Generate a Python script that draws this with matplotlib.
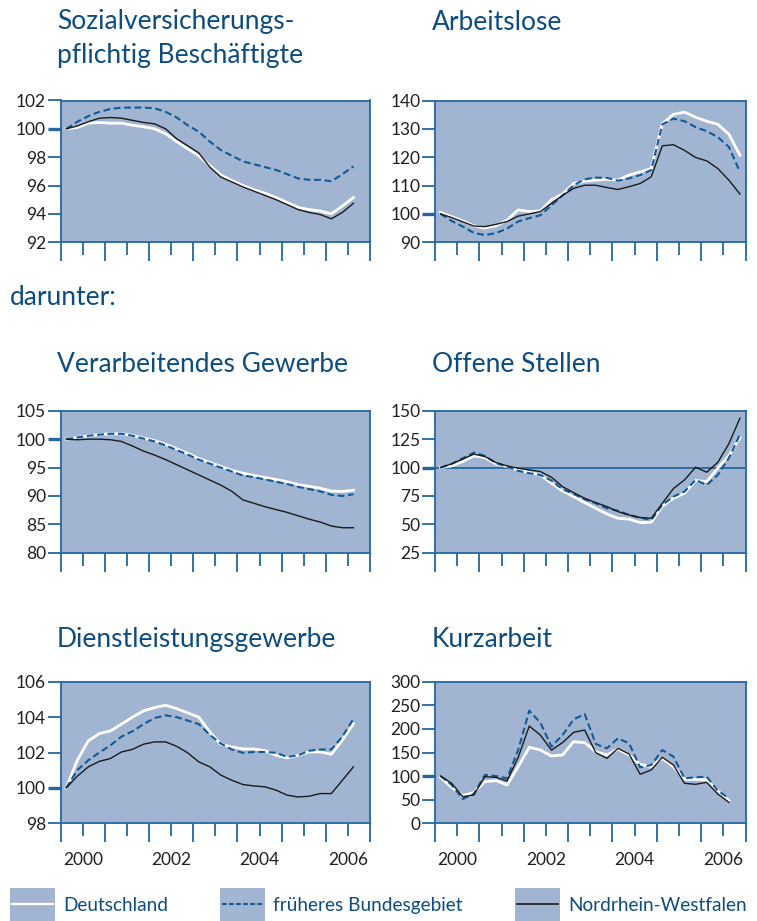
import numpy as np
import matplotlib
matplotlib.use("Agg")
import matplotlib.pyplot as plt
from matplotlib.patches import Rectangle
from matplotlib.lines import Line2D

plt.rcParams['font.family'] = ['Lato', 'DejaVu Sans']

# ---------------- data (quarterly, Q1 2000 ...) ----------------
years = [2000, 2001, 2002, 2003, 2004, 2005, 2006]
year_labels = ["2000", "", "2002", "", "2004", "", "2006"]

# Sozialversicherungspflichtig Beschäftigte
svb_de  = [100.0, 100.1, 100.4, 100.45, 100.4, 100.4, 100.25, 100.15, 100.0, 99.65, 99.1, 98.6, 98.1, 97.4,
           96.75, 96.35, 96.0, 95.7, 95.45, 95.15, 94.8, 94.45, 94.3, 94.2, 94.0, 94.55, 95.15]
svb_w   = [100.0, 100.5, 100.9, 101.2, 101.4, 101.5, 101.5, 101.5, 101.45, 101.2, 100.8, 100.25, 99.8, 99.1,
           98.5, 98.1, 97.7, 97.5, 97.3, 97.1, 96.8, 96.5, 96.4, 96.4, 96.3, 96.8, 97.35]
svb_nrw = [100.0, 100.2, 100.5, 100.75, 100.8, 100.75, 100.6, 100.45, 100.35, 100.0, 99.3, 98.8, 98.3, 97.3,
           96.6, 96.25, 95.9, 95.6, 95.3, 95.0, 94.65, 94.3, 94.1, 93.95, 93.65, 94.1, 94.75]

# Arbeitslose (to Q4 2006)
al_de  = [100.5, 99.0, 97.5, 95.8, 95.0, 95.8, 97.8, 101.4, 100.8, 101.0, 105.0, 107.0, 110.7, 111.5,
          111.9, 112.2, 111.9, 113.7, 114.8, 116.0, 131.8, 135.1, 135.9, 134.1, 132.7, 131.6, 128.1, 120.7]
al_w   = [100.0, 97.5, 95.5, 93.3, 92.5, 93.2, 94.8, 97.3, 98.5, 99.5, 103.0, 106.5, 110.1, 112.2,
          112.8, 112.7, 111.7, 112.5, 113.7, 115.5, 131.6, 133.6, 132.7, 130.6, 129.2, 127.1, 123.6, 114.8]
al_nrw = [100.0, 98.7, 97.2, 95.7, 95.5, 96.3, 97.3, 99.2, 100.0, 100.8, 103.7, 106.5, 109.0, 110.1,
          110.1, 109.3, 108.6, 109.6, 110.7, 113.1, 124.0, 124.4, 122.4, 119.9, 118.7, 116.0, 111.9, 107.0]

# Verarbeitendes Gewerbe
vg_de  = [100.0, 100.3, 100.6, 100.8, 100.95, 100.95, 100.65, 100.2, 99.75, 99.1, 98.3, 97.5, 96.6, 95.9,
          95.2, 94.5, 94.0, 93.6, 93.25, 92.9, 92.5, 92.0, 91.7, 91.35, 90.85, 90.8, 91.0]
vg_w   = [100.0, 100.3, 100.6, 100.8, 100.95, 100.95, 100.6, 100.1, 99.6, 98.9, 98.1, 97.3, 96.4, 95.7,
          95.0, 94.3, 93.6, 93.3, 92.9, 92.5, 92.1, 91.6, 91.2, 90.8, 90.2, 90.0, 90.3]
vg_nrw = [100.0, 99.9, 100.0, 100.0, 99.9, 99.6, 98.8, 97.9, 97.2, 96.4, 95.5, 94.6, 93.7, 92.8,
          91.9, 90.8, 89.3, 88.7, 88.1, 87.6, 87.1, 86.5, 85.9, 85.4, 84.7, 84.4, 84.4]

# Offene Stellen (to Q4 2006)
os_de  = [100.0, 101.5, 105.3, 110.3, 108.8, 103.2, 100.9, 97.9, 95.6, 93.5, 86.2, 79.4, 74.4, 69.1,
          64.1, 59.1, 55.3, 54.6, 51.5, 51.8, 66.0, 72.9, 77.4, 88.5, 87.6, 99.4, 110.5, 126.5]
os_w   = [100.0, 103.2, 108.2, 113.2, 110.3, 103.8, 100.9, 97.1, 95.0, 93.5, 88.5, 80.9, 76.8, 72.1,
          68.5, 64.1, 62.0, 58.2, 55.9, 53.8, 67.1, 74.4, 78.8, 89.1, 84.7, 93.5, 108.5, 129.0]
os_nrw = [100.0, 103.2, 107.4, 111.8, 109.7, 104.4, 101.5, 99.4, 97.9, 96.5, 91.5, 83.2, 77.9, 72.9,
          69.1, 65.6, 61.2, 58.2, 56.0, 55.3, 68.5, 81.5, 89.1, 100.3, 95.9, 104.6, 121.0, 143.5]

# Dienstleistungsgewerbe
dl_de  = [100.0, 101.56, 102.66, 103.07, 103.22, 103.6, 104.0, 104.35, 104.54, 104.67, 104.48, 104.24, 104.0,
          103.15, 102.46, 102.31, 102.2, 102.2, 102.1, 101.84, 101.7, 101.84, 102.03, 102.03, 101.9, 102.7, 103.63]
dl_w   = [100.0, 101.0, 101.56, 102.0, 102.4, 102.9, 103.2, 103.6, 103.95, 104.1, 104.0, 103.8, 103.6,
          103.0, 102.5, 102.17, 101.98, 102.03, 102.03, 101.98, 101.75, 101.84, 102.1, 102.17, 102.17, 102.9, 103.9]
dl_nrw = [100.0, 100.66, 101.19, 101.5, 101.66, 102.03, 102.18, 102.47, 102.6, 102.6, 102.35, 101.98, 101.47,
          101.19, 100.72, 100.43, 100.19, 100.11, 100.06, 99.87, 99.59, 99.49, 99.53, 99.68, 99.68, 100.43, 101.19]

# Kurzarbeit
ka_de  = [97.4, 76.2, 58.6, 65.0, 88.2, 90.4, 81.2, 120.0, 161.0, 155.3, 142.6, 144.7, 173.0, 170.8,
          151.8, 144.7, 157.4, 144.7, 125.0, 120.0, 137.6, 120.0, 93.2, 93.2, 91.8, 69.2, 48.0]
ka_w   = [100.2, 81.2, 51.5, 62.1, 102.4, 100.2, 95.3, 155.3, 238.6, 213.2, 162.4, 187.0, 220.2, 231.5,
          168.0, 158.8, 180.0, 169.4, 118.6, 123.5, 155.3, 141.2, 95.3, 97.4, 98.8, 69.2, 53.0]
ka_nrw = [100.2, 84.7, 56.5, 60.0, 98.8, 97.4, 89.6, 139.8, 206.0, 187.0, 155.0, 171.0, 192.7, 197.6,
          149.6, 137.6, 158.8, 146.8, 103.8, 113.0, 139.8, 123.5, 84.7, 82.6, 86.8, 62.1, 44.5]

title_lines = ["Sozialversicherungs-", "pflichtig Beschäftigte"]
titles = ["Arbeitslose", "Verarbeitendes Gewerbe", "Offene Stellen",
          "Dienstleistungsgewerbe", "Kurzarbeit"]
legend_labels = ["Deutschland", "früheres Bundesgebiet", "Nordrhein-Westfalen"]

# ---------------- style ----------------
BG = "#a1b5d3"
SPINE = "#2467a0"
DASH = "#135a94"
TITLE = "#0d4c80"
TXT = "#231f20"
TICKFS = 12.5

W, H = 757, 921
fig = plt.figure(figsize=(W / 100, H / 100), dpi=100)


def fbox(l, t, r, b):
    return [l / W, 1 - b / H, (r - l) / W, (b - t) / H]


def quarters(n):
    return 2000.125 + 0.25 * np.arange(n)


def panel(rect, de, w, nrw, yticks, labels_x=False, hline=None):
    ax = fig.add_axes(fbox(*rect))
    ax.set_facecolor(BG)
    for s in ax.spines.values():
        s.set_color(SPINE)
        s.set_linewidth(1.3)
    if hline is not None:
        ax.axhline(hline, color=SPINE, lw=1.3, zorder=1)
    ax.plot(quarters(len(de)), de, color="white", lw=2.0, zorder=2)
    ax.plot(quarters(len(w)), w, color=DASH, lw=1.5, ls=(0, (3.3, 1.7)), zorder=3)
    ax.plot(quarters(len(nrw)), nrw, color="#1a1a1a", lw=1.0, zorder=4)
    ax.set_xlim(2000, 2007)
    ax.set_ylim(yticks[0], yticks[-1])
    ax.set_yticks(yticks)
    ax.set_yticklabels([str(v) for v in yticks])
    ax.tick_params(axis="y", direction="out", length=9.5, width=1.3, color=SPINE,
                   labelsize=TICKFS, labelcolor=TXT, pad=1)
    for t, v in zip(ax.yaxis.get_major_ticks(), yticks):
        if v == 100:
            t.tick1line.set_markeredgewidth(2.4)
            t.tick1line.set_color("#0f4f86")
    ax.set_xticks(list(years) + [2007])
    ax.set_xticks([y + 0.5 for y in years], minor=True)
    ax.tick_params(axis="x", which="major", direction="out", length=14, width=1.3, color=SPINE,
                   labelbottom=False)
    if labels_x:
        ax.set_xticklabels(year_labels, minor=True)
        ax.tick_params(axis="x", which="minor", direction="out", length=9, width=1.3, color=SPINE,
                       labelsize=TICKFS, labelcolor=TXT, pad=12)
    else:
        ax.tick_params(axis="x", which="minor", direction="out", length=9, width=1.3, color=SPINE,
                       labelbottom=False)
    return ax


L = (60.7, 370.0)
R = (435.0, 745.5)
rows = [(100.5, 242.2), (410.8, 552.7), (681.7, 823.3)]

panel((L[0], rows[0][0], L[1], rows[0][1]), svb_de, svb_w, svb_nrw, [92, 94, 96, 98, 100, 102])
panel((R[0], rows[0][0], R[1], rows[0][1]), al_de, al_w, al_nrw, [90, 100, 110, 120, 130, 140])
panel((L[0], rows[1][0], L[1], rows[1][1]), vg_de, vg_w, vg_nrw, [80, 85, 90, 95, 100, 105])
panel((R[0], rows[1][0], R[1], rows[1][1]), os_de, os_w, os_nrw, [25, 50, 75, 100, 125, 150], hline=100)
panel((L[0], rows[2][0], L[1], rows[2][1]), dl_de, dl_w, dl_nrw, [98, 100, 102, 104, 106], labels_x=True)
panel((R[0], rows[2][0], R[1], rows[2][1]), ka_de, ka_w, ka_nrw, [0, 50, 100, 150, 200, 250, 300], labels_x=True)

# titles
TS = 19


def title(x, base, s):
    fig.text(x / W, 1 - base / H, s, fontsize=TS, color=TITLE, ha="left", va="baseline")


title(57, 29.5, title_lines[0])
title(57, 63.5, title_lines[1])
title(432, 29.5, titles[0])
title(10, 305, "darunter:")
title(57, 372, titles[1])
title(432, 372, titles[2])
title(57, 647, titles[3])
title(432, 647, titles[4])

# legend
boxes = [10, 220, 515]
styles = [dict(color="white", lw=1.6), dict(color=DASH, lw=1.5, ls=(0, (2.2, 1.2))),
          dict(color="#1a1a1a", lw=1.2)]
for bx, lab, st in zip(boxes, legend_labels, styles):
    fig.patches.append(Rectangle((bx / W, 1 - 921 / H), 45 / W, 33 / H, transform=fig.transFigure,
                                 facecolor=BG, edgecolor="none"))
    fig.lines.append(Line2D([(bx + 2) / W, (bx + 43) / W], [1 - 904 / H, 1 - 904 / H],
                            transform=fig.transFigure, **st))
    fig.text((bx + 53) / W, 1 - 905 / H, lab, fontsize=13.7, color=TITLE, ha="left", va="center")

fig.savefig("out.png", dpi=100)
